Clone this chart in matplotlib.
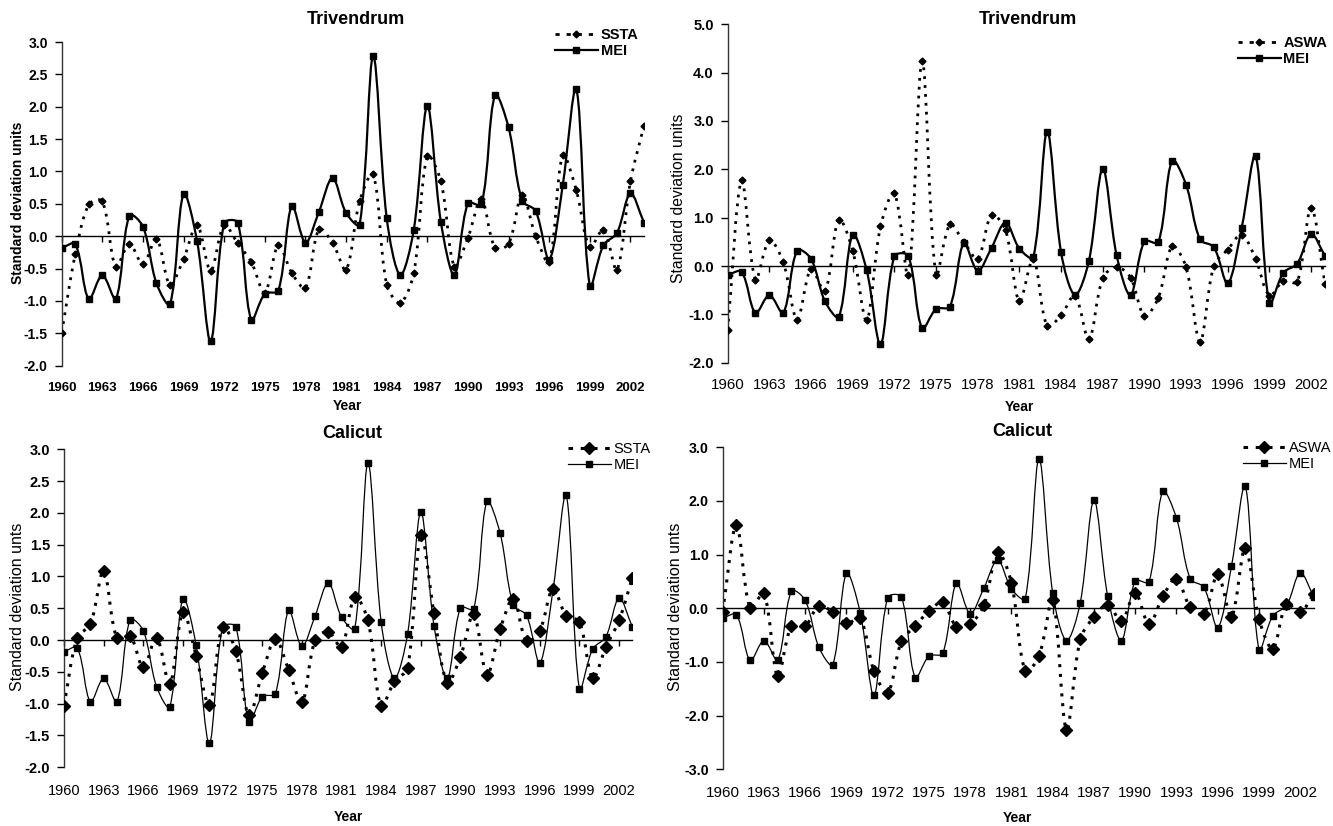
import numpy as np
import matplotlib.pyplot as plt
from matplotlib.path import Path
from matplotlib.patches import PathPatch
from matplotlib.lines import Line2D

plt.rcParams['font.family'] = ['Liberation Sans', 'DejaVu Sans']

years = np.arange(1960, 2004)

mei = [-0.18, -0.12, -0.97, -0.60, -0.97, 0.32, 0.15, -0.73, -1.05, 0.65,
       -0.08, -1.62, 0.20, 0.21, -1.29, -0.89, -0.84, 0.47, -0.10, 0.38,
       0.90, 0.36, 0.18, 2.78, 0.28, -0.60, 0.10, 2.01, 0.22, -0.60,
       0.51, 0.49, 2.18, 1.68, 0.55, 0.39, -0.36, 0.79, 2.28, -0.77,
       -0.14, 0.05, 0.66, 0.21]

ssta_triv = [-1.49, -0.28, 0.49, 0.54, -0.47, -0.12, -0.43, -0.04, -0.75, -0.35,
             0.17, -0.53, 0.17, -0.11, -0.40, -0.87, -0.14, -0.57, -0.80, 0.11,
             -0.10, -0.52, 0.54, 0.96, -0.75, -1.03, -0.57, 1.24, 0.85, -0.47,
             -0.02, 0.57, -0.18, -0.12, 0.64, 0.00, -0.40, 1.25, 0.71, -0.17,
             0.10, -0.52, 0.85, 1.71]

aswa_triv = [-1.33, 1.77, -0.28, 0.53, 0.08, -1.11, -0.06, -0.52, 0.96, 0.32,
             -1.12, 0.82, 1.51, -0.19, 4.24, -0.19, 0.86, 0.50, 0.15, 1.06,
             0.74, -0.73, 0.15, -1.25, -1.02, -0.61, -1.52, -0.25, -0.02, -0.24,
             -1.03, -0.66, 0.41, -0.02, -1.57, 0.01, 0.34, 0.65, 0.15, -0.61,
             -0.31, -0.33, 1.21, -0.37]

ssta_cal = [-1.03, 0.04, 0.25, 1.09, 0.03, 0.07, -0.43, 0.04, -0.69, 0.44,
            -0.25, -1.02, 0.21, -0.17, -1.18, -0.52, 0.01, -0.47, -0.98, 0.00,
            0.13, -0.11, 0.68, 0.31, -1.04, -0.65, -0.44, 1.65, 0.42, -0.67,
            -0.26, 0.41, -0.55, 0.17, 0.65, -0.02, 0.15, 0.81, 0.38, 0.29,
            -0.60, -0.11, 0.31, 0.98]

aswa_cal = [-0.06, 1.55, 0.00, 0.28, -1.27, -0.33, -0.33, 0.05, -0.07, -0.28,
            -0.19, -1.17, -1.57, -0.61, -0.33, -0.05, 0.11, -0.34, -0.29, 0.06,
            1.04, 0.47, -1.17, -0.89, 0.16, -2.26, -0.58, -0.16, 0.07, -0.24,
            0.29, -0.30, 0.22, 0.55, 0.02, -0.10, 0.63, -0.16, 1.12, -0.20,
            -0.75, 0.08, -0.07, 0.27]

tick_years = list(range(1960, 2003, 3))

W, H = 1333, 826


def fx(px):
    return px / W


def fy(py):
    return 1 - py / H


def smooth(ax, x, y, sx, sy, **kw):
    # excel-like smoothed line: bezier through every point, tangents
    # weighted by segment length in screen space (sx, sy = px per unit)
    X = np.asarray(x, float) * sx
    Y = np.asarray(y, float) * sy
    n = len(X)
    tx = np.zeros(n)
    ty = np.zeros(n)
    for i in range(n):
        a = max(i - 1, 0)
        c = min(i + 1, n - 1)
        d1 = np.hypot(X[i] - X[a], Y[i] - Y[a])
        d2 = np.hypot(X[c] - X[i], Y[c] - Y[i])
        s = d1 + d2
        if s > 0:
            tx[i] = (X[c] - X[a]) / s
            ty[i] = (Y[c] - Y[a]) / s
    verts = [(x[0], y[0])]
    codes = [Path.MOVETO]
    for i in range(n - 1):
        d = np.hypot(X[i + 1] - X[i], Y[i + 1] - Y[i]) / 3
        c1 = ((X[i] + tx[i] * d) / sx, (Y[i] + ty[i] * d) / sy)
        c2 = ((X[i + 1] - tx[i + 1] * d) / sx, (Y[i + 1] - ty[i + 1] * d) / sy)
        verts += [c1, c2, (x[i + 1], y[i + 1])]
        codes += [Path.CURVE4] * 3
    ax.add_patch(PathPatch(Path(verts, codes), fill=False, **kw))


fig = plt.figure(figsize=(13.33, 8.26), dpi=100)

# per panel: axes rect in px, y range, y step, series, legend name, title
panels = [
    dict(rect=(61.7, 644, 42, 365.7), ylim=(-2, 3), step=0.5, series=ssta_triv, name='SSTA',
         title='Trivendrum', top=True, ylab='Standard deviation units',
         leg=(548, 21), tpos=(356, 20), ypos=(347, 406), lpos=(18, 203),
         xfs=9.5, xwt='bold', xpad=12, yfs=10, lfs=10, lwt='bold'),
    dict(rect=(727.7, 1325, 24.3, 362.7), ylim=(-2, 5), step=1.0, series=aswa_triv, name='ASWA',
         title='Trivendrum', top=True, ylab='Standard deviation units',
         leg=(1231, 29), tpos=(1028, 20), ypos=(1019, 407), lpos=(678, 198),
         xfs=10.8, xwt='normal', xpad=11, yfs=10.5, lfs=11.3, lwt='normal'),
    dict(rect=(64, 632.3, 449.3, 767.3), ylim=(-2, 3), step=0.5, series=ssta_cal, name='SSTA',
         title='Calicut', top=False, ylab='Standard deviation unts',
         leg=(561, 435), tpos=(352, 433), ypos=(348, 817), lpos=(18, 607),
         xfs=10.5, xwt='normal', xpad=12, yfs=10.5, lfs=11.5, lwt='normal'),
    dict(rect=(722.7, 1314, 447.3, 769.3), ylim=(-3, 3), step=1.0, series=aswa_cal, name='ASWA',
         title='Calicut', top=False, ylab='Standard deviation unts',
         leg=(1236, 434), tpos=(1022, 432), ypos=(1017, 818), lpos=(676, 607),
         xfs=11, xwt='normal', xpad=12, yfs=10.3, lfs=11.5, lwt='normal'),
]

for p in panels:
    l, r, t, b = p['rect']
    ylim = p['ylim']
    step = p['step']
    ax = fig.add_axes([fx(l), fy(b), (r - l) / W, (b - t) / H])
    ax.set_xlim(1960, 2003)
    ax.set_ylim(*ylim)
    sx = (r - l) / 43.0
    sy = (b - t) / (ylim[1] - ylim[0])
    lwt = 'bold' if p['top'] else 'normal'

    if p['top']:
        s_lw, s_ms = 2.0, 3.5
        m_lw, m_ms = 1.6, 4.5
    else:
        s_lw, s_ms = 2.2, 6.5
        m_lw, m_ms = 0.9, 4.5

    dots = (0, (1.0, 2.2))
    smooth(ax, years, p['series'], sx, sy, color='black', lw=s_lw, linestyle=dots, zorder=2)
    smooth(ax, years, mei, sx, sy, color='black', lw=m_lw, zorder=3)
    ax.plot(years, p['series'], linestyle='none', marker='D', ms=s_ms, color='black', zorder=4)
    ax.plot(years, mei, linestyle='none', marker='s', ms=m_ms, color='black', zorder=4)

    for sp in ['top', 'right', 'bottom']:
        ax.spines[sp].set_visible(False)
    ax.spines['left'].set_color('#333333')
    ax.spines['left'].set_linewidth(1.0)

    yt = np.arange(ylim[0], ylim[1] + step / 2, step)
    ax.set_yticks(yt)
    ax.set_yticklabels(['%.1f' % v for v in yt], fontweight='bold')
    ax.tick_params(axis='y', length=5, width=1, direction='out', pad=5, labelsize=p['yfs'])

    ax.set_xticks(tick_years)
    ax.set_xticklabels([str(v) for v in tick_years], fontweight=p['xwt'])
    ax.tick_params(axis='x', length=0, pad=p['xpad'], labelsize=p['xfs'])

    sec = ax.secondary_xaxis(0, transform=ax.transData)
    sec.set_xticks(tick_years)
    sec.tick_params(length=4, width=1, direction='out', labelbottom=False)
    sec.spines['bottom'].set_linewidth(1.0)
    sec.spines['bottom'].set_color('black')

    handles = [
        Line2D([], [], color='black', lw=s_lw, linestyle=(0, (1.5, 2.5)), marker='D', ms=s_ms),
        Line2D([], [], color='black', lw=m_lw, marker='s', ms=m_ms),
    ]
    ax.legend(handles, [p['name'], 'MEI'], loc='upper left',
              bbox_to_anchor=(fx(p['leg'][0]), fy(p['leg'][1])),
              bbox_transform=fig.transFigure, frameon=False, borderpad=0, handlelength=2.9,
              handletextpad=0.2, labelspacing=0.15, prop={'size': 10.5, 'weight': lwt})

    fig.text(fx(p['tpos'][0]), fy(p['tpos'][1]), p['title'], ha='center', va='center',
             fontsize=13, fontweight='bold')
    fig.text(fx(p['ypos'][0]), fy(p['ypos'][1]), 'Year', ha='center', va='center',
             fontsize=10, fontweight='bold')
    fig.text(fx(p['lpos'][0]), fy(p['lpos'][1]), p['ylab'], ha='center', va='center',
             rotation=90, fontsize=p['lfs'], fontweight=p['lwt'])

fig.savefig('out.png', dpi=100)
